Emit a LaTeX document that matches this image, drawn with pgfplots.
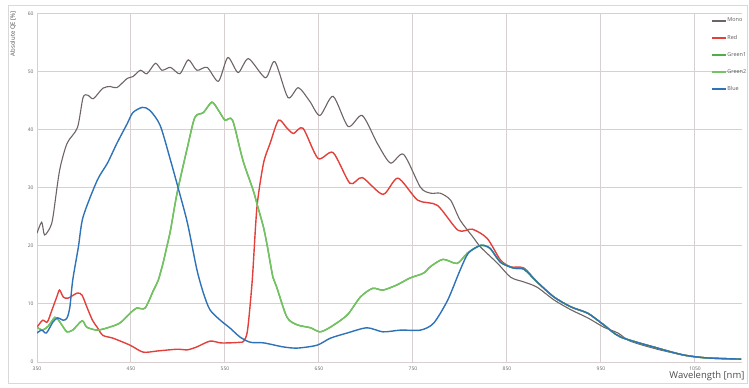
\documentclass[border=0pt]{standalone}
\usepackage{fontspec}
\setmainfont{Open Sans}
\usepackage{pgfplots}
\pgfplotsset{compat=1.18}

\definecolor{qeMono}{HTML}{6E6464}
\definecolor{qeRed}{HTML}{E2403A}
\definecolor{qeGreenA}{HTML}{4FAE45}
\definecolor{qeGreenB}{HTML}{74C261}
\definecolor{qeBlue}{HTML}{2E72B8}
\definecolor{qeGrid}{HTML}{D8D0D0}

\begin{document}
\begin{tikzpicture}
\path[use as bounding box] (0,0) rectangle (749bp,388bp);
\draw[draw=black!15, line width=0.8bp] (8bp,5bp) rectangle (747bp,383bp);
\begin{axis}[
  at={(37bp,26bp)}, anchor=south west,
  scale only axis, width=705bp, height=348bp,
  xmin=350, xmax=1100, ymin=0, ymax=60,
  xtick={350,450,...,1050}, ytick={0,10,...,60},
  grid=major,
  major grid style={qeGrid, line width=1bp},
  axis lines*=left,
  axis line style={qeGrid, line width=1bp},
  major tick length=0pt,
  /pgf/number format/assume math mode=true,
  /pgf/number format/set thousands separator={},
  ticklabel style={font=\fontsize{5}{6}\selectfont, text=black!60},
  xticklabel style={yshift=-1bp},
  xlabel={Wavelength [nm]},
  xlabel style={at={(rel axis cs:1,0)}, anchor=east, xshift=6bp, yshift=-14bp,
    font=\fontsize{9.5}{11}\selectfont, text=black!70},
  ylabel={Absolute QE [\%]},
  ylabel style={at={(rel axis cs:0,1)}, anchor=east, xshift=6bp, yshift=24bp,
    font=\fontsize{6}{7}\selectfont, text=black!70},
  legend style={at={(rel axis cs:1,1)}, anchor=north east, xshift=5bp, yshift=-3bp,
    draw=none, fill=none, row sep=10.5bp, inner sep=0pt,
    font=\fontsize{5.5}{6}\selectfont, text=black!65,
    nodes={inner sep=0.6pt}},
  legend cell align=left,
  legend image code/.code={\draw[#1, line width=2bp] (0bp,0bp) -- (14bp,0bp);},
]
\addplot[qeMono, line width=1.1bp, smooth, tension=0.45] coordinates {
(350,22.2) (355,24.1) (358,21.9) (364,23.2) (367,25) (374,33) (382,37.7)
(393,40.4) (399,45.6) (404,46) (410,45.4) (420,47.2) (428,47.5) (435,47.3)
(446,48.9) (452,49.2) (460,50.3) (467,49.7) (476,51.5) (483,50.3) (492,50.8)
(502,49.7) (511,52.1) (520,50.3) (531,50.8) (543,48.4) (553,52.5) (564,49.9)
(575,52.3) (593,49) (603,51.8) (617,45.6) (628,47.3) (640,45) (651,42.5)
(665,45.8) (681,40.6) (696,42.5) (712,37.7) (726,34.3) (740,35.8) (758,30.1)
(769,29.1) (779,29.1) (790,27.9) (800,24.5) (814,21.5) (822,19.8) (840,17)
(854,14.6) (868,13.8) (882,12.9) (900,10.7) (918,9) (936,7.6) (953,6)
(968,5) (981,3.6) (1010,2.2) (1038,1.2) (1063,0.7) (1099,0.5)
};
\addlegendentry{Mono}
\addplot[qeRed, line width=1.4bp, smooth, tension=0.45] coordinates {
(350,6.0) (356,7.2) (361,6.9) (366,9) (371,11.2) (374,12.4) (378,11.2)
(383,11) (393,11.9) (398,11.5) (403,9.5) (409,7.2) (414,6.0) (420,4.6)
(431,4.1) (449,2.9) (463,1.7) (478,1.9) (499,2.2) (510,2.1) (520,2.6)
(534,3.6) (545,3.3) (555,3.3) (566,3.4) (570,3.6) (574,5.5) (579,14.1)
(584,26.7) (591,34.3) (598,37.7) (607,41.7) (616,40.3) (623,39.4) (633,40.3)
(649,35.1) (665,36.1) (683,30.8) (696,31.8) (718,28.9) (734,31.7) (755,27.9)
(776,27) (798,22.7) (813,22.9) (829,21.3) (843,17.6) (854,16.4) (868,16.2)
(882,13.8) (900,11.2) (918,9.5) (936,8.4) (953,6.4) (971,4.3) (1010,2.4)
(1038,1.2) (1063,0.7) (1099,0.5)
};
\addlegendentry{Red}
\addplot[qeGreenA, line width=1.4bp, smooth, tension=0.45] coordinates {
(350,6) (356,5.5) (362,6.2) (369,7.7) (373,7.2) (378,6) (382,5.2) (388,5.5)
(398,7.1) (403,6) (414,5.5) (425,5.9) (438,6.7) (449,8.4) (456,9.3) (465,9.3)
(474,12.4) (479,14.1) (484,17) (488,19.8) (492,22.7) (499,29.1) (510,37)
(518,42.2) (527,43) (536,44.8) (543,43.4) (550,41.7) (558,41.7) (569,34.8)
(580,29.6) (585,26.7) (591,23.2) (595,20) (601,14.6) (605,12.9) (616,7.7)
(627,6.4) (641,5.9) (651,5.2) (662,6) (680,8.1) (694,11.2) (707,12.7)
(718,12.4) (733,13.3) (747,14.5) (761,15.3) (769,16.5) (782,17.7) (797,17)
(808,18.8) (822,20.1) (832,19.6) (843,17.2) (857,16.2) (868,16) (882,13.8)
(900,11.2) (918,9.5) (936,8.4) (953,6.4) (971,4.3) (1010,2.4) (1038,1.2)
(1063,0.7) (1099,0.5)
};
\addlegendentry{Green1}
\addplot[qeGreenB, line width=1.4bp, smooth, tension=0.45] coordinates {
(350,6) (356,5.5) (362,6.2) (369,7.7) (373,7.2) (378,6) (382,5.2) (388,5.5)
(398,7.1) (403,6) (414,5.5) (425,5.9) (438,6.7) (449,8.4) (456,9.3) (465,9.3)
(474,12.4) (479,14.1) (484,17) (488,19.8) (492,22.7) (499,29.1) (510,37)
(518,42.2) (527,43) (536,44.8) (543,43.4) (550,41.7) (558,41.7) (569,34.8)
(580,29.6) (585,26.7) (591,23.2) (595,20) (601,14.6) (605,12.9) (616,7.7)
(627,6.4) (641,5.9) (651,5.2) (662,6) (680,8.1) (694,11.2) (707,12.7)
(718,12.4) (733,13.3) (747,14.5) (761,15.3) (769,16.5) (782,17.7) (797,17)
(808,18.8) (822,20.1) (832,19.6) (843,17.2) (857,16.2) (868,16) (882,13.8)
(900,11.2) (918,9.5) (936,8.4) (953,6.4) (971,4.3) (1010,2.4) (1038,1.2)
(1063,0.7) (1099,0.5)
};
\addlegendentry{Green2}
\addplot[qeBlue, line width=1.4bp, smooth, tension=0.45] coordinates {
(350,5) (355,5.5) (360,5) (367,6.9) (372,7.6) (378,7.2) (382,7.6) (385,9.5)
(388,14.1) (394,19.8) (399,25) (414,31.3) (425,34.3) (435,37.7) (446,41.1)
(452,43) (462,43.9) (470,43.4) (481,40.8) (492,34.8) (500,30.1) (510,24)
(520,16) (527,11.9) (534,9) (545,7.2) (555,5.9) (566,4.3) (577,3.4)
(591,3.3) (612,2.6) (627,2.4) (648,2.9) (662,4.1) (680,5) (701,5.9)
(718,5.2) (737,5.5) (758,5.5) (772,6.7) (787,10.7) (800,15.8) (809,18.8)
(822,20.1) (832,19.6) (843,17.2) (857,16.2) (868,16) (882,13.8) (900,11.2)
(918,9.5) (936,8.4) (953,6.4) (971,4.3) (1010,2.4) (1038,1.2) (1063,0.7)
(1099,0.5)
};
\addlegendentry{Blue}
\end{axis}
\end{tikzpicture}
\end{document}
